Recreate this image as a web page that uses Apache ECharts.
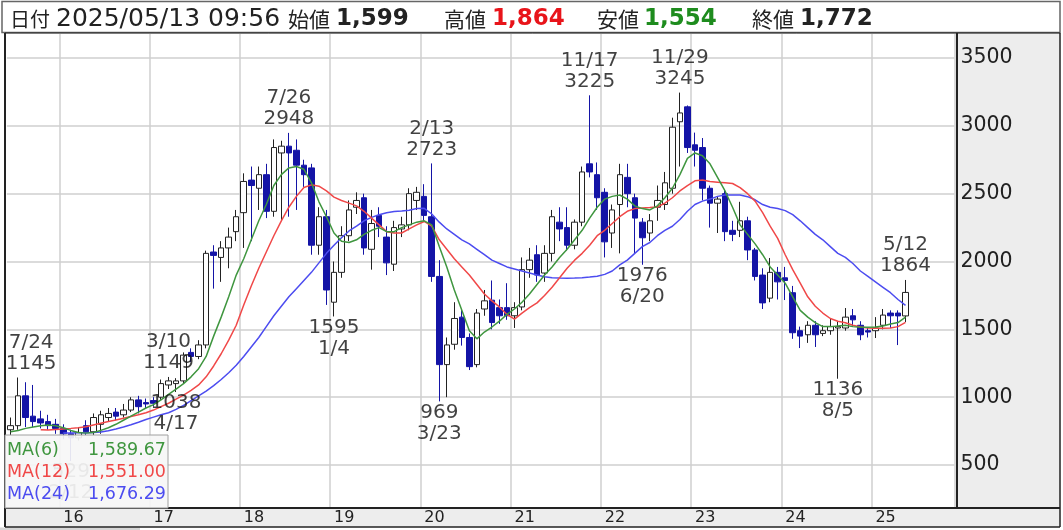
<!DOCTYPE html>
<html><head><meta charset="utf-8">
<script src="https://cdn.jsdelivr.net/npm/echarts@6/dist/echarts.min.js"></script>
<style>html,body{margin:0;padding:0;background:#fff}#c{width:1063px;height:530px}</style>
</head><body><div id="c"></div>
<script>
// ---- data (monthly candles 2015/06 - 2025/05, axis runs to 2025/11) ----
const startYear = 2015, startMonth = 6, slotCount = 126;
const categories = [];
for (let i = 0; i < slotCount; i++) {
  const t = startMonth - 1 + i;
  categories.push((startYear + Math.floor(t / 12)) + '/' + String(t % 12 + 1).padStart(2, '0'));
}
const opens = [760,790,1010,860,840,820,800,770,730,700, 790,745,800,850,890,870,905,980,960,975,
 1000,1090,1100,1120,1330,1300,1385,2070,2030,2100, 2220,2360,2600,2540,2640,2370,2800,2850,2820,2710,
 2690,2120,2330,1700,1920,2190,2400,2470,2090,2340, 2180,1980,2240,2270,2450,2480,2330,1890,1240,1390,
 1590,1440,1240,1650,1715,1660,1660,1600,1665,1940, 2050,1915,2060,2290,2250,2120,2290,2720,2640,2510,
 2210,2420,2620,2470,2290,2210,2400,2420,2540,3030, 3140,2860,2840,2540,2430,2500,2230,2230,2300,2085,
 1900,1730,1920,1880,1770,1490,1460,1530,1470,1490, 1510,1510,1600,1530,1490,1490,1530,1620,1620,1599];
const highs = [850,1145,1110,1090,900,870,840,800,760,780, 830,880,900,920,920,950,1000,1010,990,1000,
 1130,1149,1140,1330,1360,1420,2080,2120,2150,2250, 2380,2650,2700,2700,2720,2900,2890,2948,2900,2750,
 2720,2400,2380,2000,2260,2450,2510,2500,2380,2400, 2260,2300,2330,2540,2550,2570,2723,2010,1440,1700,
 1650,1470,1650,1790,1860,1720,1840,1700,2030,2100, 2120,2120,2380,2400,2400,2310,2700,3225,2730,2540,
 2420,2720,2720,2500,2320,2350,2560,2660,3060,3245, 3150,2950,2910,2560,2480,2530,2300,2440,2330,2100,
 1950,2026,1960,1960,1820,1520,1560,1560,1530,1580, 1560,1657,1650,1560,1510,1590,1650,1640,1640,1864];
const lows = [720,760,780,780,770,760,730,690,529,680, 720,720,730,820,830,850,890,880,920,930,
 980,1060,1038,1100,1260,1280,1360,1800,1850,1950, 2150,2100,2150,2380,2320,2330,2300,2330,2380,2550,
 2050,2050,1680,1595,1880,2150,2350,2050,1940,2180, 1900,1930,2180,2230,2380,2300,1850,969,1000,1350,
 1380,1200,1220,1600,1500,1540,1570,1510,1640,1880, 1850,1850,2000,2150,2080,2090,2260,2620,2380,2030,
 2100,2060,2400,2060,1976,2150,2300,2380,2500,2700, 2800,2700,2450,2250,2210,2150,2150,2180,2010,1860,
 1650,1700,1720,1716,1430,1362,1400,1370,1450,1460, 1136,1490,1520,1420,1440,1436,1500,1510,1384,1554];
const closes = [790,1010,850,820,810,790,770,730,700,740, 745,850,870,880,860,905,980,930,950,955,
 1100,1120,1120,1310,1300,1385,2060,2045,2100,2180, 2330,2590,2560,2640,2370,2840,2850,2800,2710,2640,
 2120,2330,1790,1920,2190,2380,2450,2100,2280,2260, 1990,2250,2270,2500,2510,2340,1890,1240,1385,1580,
 1440,1225,1620,1710,1550,1600,1600,1660,1940,2010, 1900,2060,2330,2240,2120,2290,2660,2660,2470,2145,
 2380,2640,2500,2320,2175,2300,2450,2580,2990,3095, 2840,2820,2540,2430,2460,2220,2200,2300,2085,1890,
 1695,1920,1850,1860,1475,1450,1530,1460,1490,1520, 1520,1590,1570,1460,1480,1510,1605,1600,1599,1772];
const ma6 = [745,755,770,780,790,795,790,775,755,740, 735,740,755,775,800,830,860,890,920,945,
 980,1020,1060,1100,1150,1210,1300,1450,1590,1740, 1900,2020,2160,2300,2420,2560,2640,2690,2700,2680,
 2580,2440,2330,2210,2150,2140,2160,2200,2230,2250, 2220,2220,2250,2270,2290,2300,2270,2110,1960,1790,
 1640,1490,1430,1480,1517,1560,1610,1650,1700,1760, 1830,1900,1960,2030,2090,2160,2230,2320,2400,2460,
 2480,2490,2460,2410,2390,2380,2410,2470,2540,2640, 2760,2800,2780,2720,2620,2520,2400,2270,2200,2130,
 2050,1960,1900,1840,1740,1640,1590,1550,1520,1520, 1525,1530,1520,1515,1515,1517,1525,1540,1550,1589.67];
const ma12 = [null,null,null,null,760,758,762,766,770,775, 782,795,808,820,832,845,858,870,885,905,
 930,955,985,1015,1050,1090,1150,1230,1320,1420, 1530,1680,1820,1950,2070,2190,2300,2400,2480,2545,
 2565,2555,2520,2475,2450,2430,2410,2370,2320,2270, 2220,2210,2210,2240,2270,2295,2260,2160,2090,2020,
 1960,1900,1830,1760,1710,1665,1610,1575,1620,1660, 1695,1750,1810,1880,1950,2010,2060,2120,2190,2230,
 2280,2330,2370,2390,2395,2398,2402,2430,2470,2520, 2560,2595,2600,2590,2585,2580,2575,2545,2500,2445,
 2360,2260,2170,2050,1940,1840,1740,1670,1620,1580, 1560,1548,1530,1518,1510,1508,1508,1510,1520,1551.00];
const ma24 = [null,null,null,null,null,null,null,736,736,737, 738,740,743,752,765,780,797,815,835,853,
 870,885,910,940,975,1010,1045,1085,1130,1180, 1235,1300,1370,1440,1520,1600,1670,1740,1800,1860,
 1920,1990,2060,2120,2175,2225,2260,2300,2325,2345, 2360,2368,2372,2378,2390,2392,2350,2290,2240,2200,
 2160,2130,2090,2050,2010,1985,1960,1945,1930,1915, 1900,1888,1880,1878,1877,1878,1880,1885,1892,1905,
 1930,1975,2010,2060,2110,2140,2190,2230,2260,2310, 2370,2420,2445,2460,2480,2490,2490,2490,2478,2455,
 2420,2400,2390,2375,2345,2300,2250,2200,2160,2110, 2060,2030,1985,1930,1890,1850,1810,1770,1720,1676.29];
const yTicks = [500,1000,1500,2000,2500,3000,3500];
const peakMonths = ['2015/07','2016/02','2017/03','2017/04','2018/07','2019/01','2020/02','2020/03','2021/11','2022/06','2022/11','2024/08','2025/05'];
const peakDates  = ['7/24','2/12','3/10','4/17','7/26','1/4','2/13','3/23','11/17','6/20','11/29','8/5','5/12'];
const peakValues = [1145,529,1149,1038,2948,1595,2723,969,3225,1976,3245,1136,1864];
const peakKinds  = ['high','low','high','low','high','low','high','low','high','low','high','low','high'];
const headerDate = '2025/05/13 09:56';

// ---- chart ----
const FONT = '"DejaVu Sans"';
const CJK = '"Noto Sans CJK JP"';
const GREEN = '#3f963f', RED = '#f04848', BLUE = '#4c4cf0', DOWN = '#1414a6';
const last = opens.length - 1;
const fmt0 = v => v.toLocaleString('en-US');
const fmt2 = v => v.toLocaleString('en-US', {minimumFractionDigits: 2, maximumFractionDigits: 2});
const candleData = opens.map((o, i) => [o, closes[i], lows[i], highs[i]]);
const labelShift = {'2015/07': [13, 0]};
const peakData = peakMonths.map((m, i) => {
  const hi = peakKinds[i] === 'high';
  return {
    value: [m, peakValues[i]],
    label: {
      position: hi ? 'top' : 'bottom', distance: hi ? 3 : 0,
      offset: labelShift[m] || [0, 0],
      formatter: hi ? (peakDates[i] + '\n' + peakValues[i]) : (peakValues[i] + '\n' + peakDates[i])
    }
  };
});
const txt = (text, x, y, font, fill, align) => ({
  type: 'text', z: 200,
  style: {text, x, y, font, fill: fill || '#222', textAlign: align || 'left', align: align || 'left',
          textVerticalAlign: 'middle', verticalAlign: 'middle'}
});
const line = (x1, y1, x2, y2, w, c) => ({type: 'line', z: 150, shape: {x1, y1, x2, y2},
  style: {stroke: c || '#222', lineWidth: w}});

const chart = echarts.init(document.getElementById('c'));
chart.setOption({
  animation: false,
  backgroundColor: '#fff',
  grid: {left: 6.86, right: 108.6, top: 34, bottom: 22},
  xAxis: {
    type: 'category', data: categories, boundaryGap: true,
    axisLine: {show: false}, axisTick: {show: false},
    axisLabel: {interval: (i, v) => v.endsWith('/01'), formatter: v => v.slice(2, 4), align: 'left',
      margin: 2, fontFamily: FONT, fontSize: 16, color: '#222'},
    splitLine: {show: true, interval: (i, v) => v.endsWith('/01'), lineStyle: {color: '#cfcfcf', width: 1.5}}
  },
  yAxis: {
    type: 'value', position: 'right', min: 183.1, max: 3676.9,
    axisLine: {show: false}, axisTick: {show: false, customValues: yTicks},
    axisLabel: {customValues: yTicks, formatter: v => String(v), margin: 6, fontFamily: FONT, fontSize: 20.5, color: '#222', align: 'left'},
    splitLine: {show: true, lineStyle: {color: '#cfcfcf', width: 1.5}}
  },
  series: [
    {type: 'candlestick', data: candleData, barWidth: 6, z: 2,
      itemStyle: {color: '#ffffff', color0: DOWN, borderColor: '#222', borderColor0: DOWN, borderWidth: 1}},
    {type: 'line', data: ma24, showSymbol: false, z: 3, lineStyle: {color: BLUE, width: 1.5}, itemStyle: {color: BLUE}},
    {type: 'line', data: ma12, showSymbol: false, z: 3, lineStyle: {color: RED, width: 1.5}, itemStyle: {color: RED}},
    {type: 'line', data: ma6, showSymbol: false, z: 3, lineStyle: {color: GREEN, width: 1.5}, itemStyle: {color: GREEN}},
    {type: 'scatter', data: peakData, symbolSize: 1, z: 4, itemStyle: {color: 'rgba(0,0,0,0)'},
      label: {show: true, fontFamily: FONT, fontSize: 20, lineHeight: 21, color: '#111'}}
  ],
  graphic: {elements: [
    {type: 'rect', z: -5, shape: {x: 957, y: 33, width: 103, height: 475}, style: {fill: '#ededed'}},
    {type: 'rect', z: -5, shape: {x: 5, y: 508, width: 1055, height: 19}, style: {fill: '#ededed'}},
    {type: 'rect', z: -5, shape: {x: 0, y: 527.5, width: 140, height: 3}, style: {fill: '#d6d6d6'}},
    {type: 'rect', z: 140, shape: {x: 2, y: 1.5, width: 1058, height: 31}, style: {fill: '#fff', stroke: '#666', lineWidth: 1.5}},
    line(5, 33, 5, 527, 2), line(957, 33, 957, 508, 2), line(5, 508, 1060, 508, 2),
    line(5, 527, 1060, 527, 1.5), line(1060, 33, 1060, 527, 1.5), line(5, 33, 1060, 33, 1),
    txt('日付', 10, 19, '20px ' + CJK),
    txt(headerDate, 56, 19, '25px ' + FONT),
    txt('始値', 288, 19, '21px ' + CJK),
    txt(fmt0(opens[last]), 336, 19, 'bold 23px ' + FONT),
    txt('高値', 444, 19, '21px ' + CJK),
    txt(fmt0(highs[last]), 492, 19, 'bold 23px ' + FONT, '#e8141a'),
    txt('安値', 597, 19, '21px ' + CJK),
    txt(fmt0(lows[last]), 644, 19, 'bold 23px ' + FONT, '#1e8c1e'),
    txt('終値', 752, 19, '21px ' + CJK),
    txt(fmt0(closes[last]), 800, 19, 'bold 23px ' + FONT),
    {type: 'rect', z: 180, shape: {x: 5, y: 435, width: 163, height: 73}, style: {fill: 'rgba(246,246,246,0.92)', stroke: '#a0a0a0', lineWidth: 1}},
    txt('MA(6)', 7, 450, '17.5px ' + FONT, GREEN),
    txt(fmt2(ma6[last]), 166, 450, '17.5px ' + FONT, GREEN, 'right'),
    txt('MA(12)', 7, 472, '17.5px ' + FONT, RED),
    txt(fmt2(ma12[last]), 166, 472, '17.5px ' + FONT, RED, 'right'),
    txt('MA(24)', 7, 494, '17.5px ' + FONT, BLUE),
    txt(fmt2(ma24[last]), 166, 494, '17.5px ' + FONT, BLUE, 'right')
  ]}
});
</script></body></html>
